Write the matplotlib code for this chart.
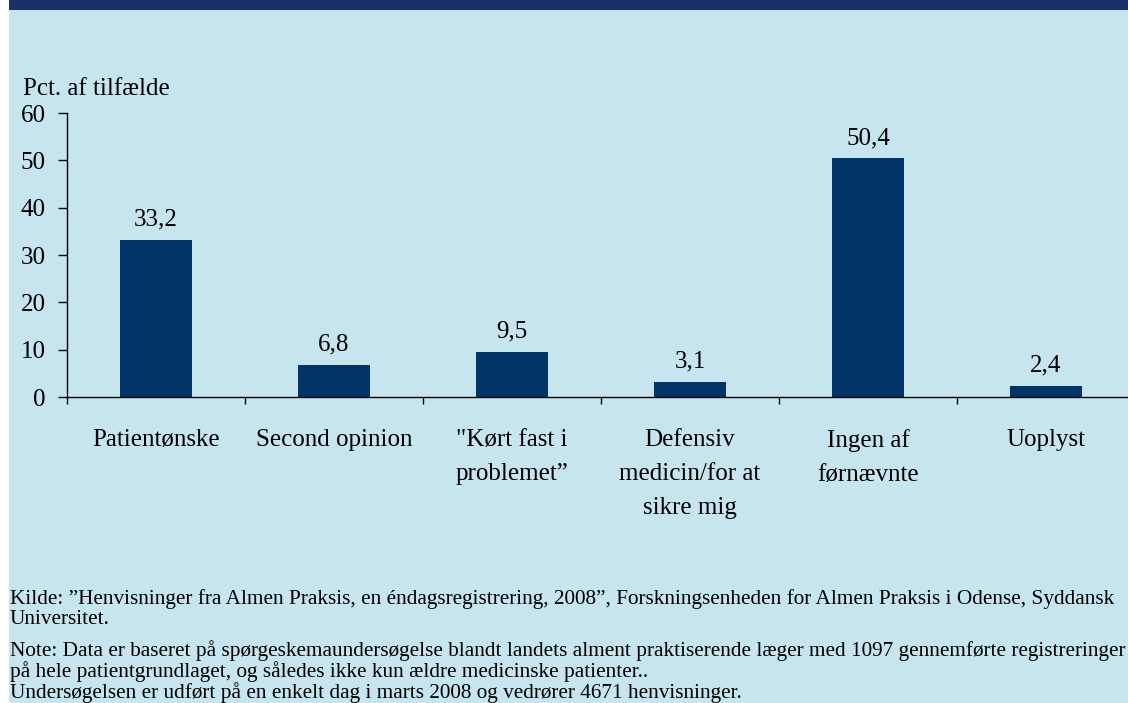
import matplotlib.pyplot as plt
from matplotlib.patches import Rectangle

plt.rcParams['font.family'] = ['Liberation Serif', 'DejaVu Serif']

categories = ['Patientønske', 'Second opinion', '"Kørt fast i\nproblemet\u201d',
              'Defensiv\nmedicin/for at\nsikre mig', 'Ingen af\nførnævnte', 'Uoplyst']
values = [33.2, 6.8, 9.5, 3.1, 50.4, 2.4]
value_labels = ['33,2', '6,8', '9,5', '3,1', '50,4', '2,4']
yticks = [0, 10, 20, 30, 40, 50, 60]

bg = '#C7E5EE'
bar_color = '#003366'

fig = plt.figure(figsize=(11.28, 7.03), dpi=100)
fig.patch.set_facecolor('white')
# light blue panel and dark top band
fig.patches.append(Rectangle((9 / 1128, 0), 1, 1, transform=fig.transFigure,
                             facecolor=bg, edgecolor='none', zorder=-2))
fig.patches.append(Rectangle((9 / 1128, 1 - 10 / 703), 1, 10 / 703, transform=fig.transFigure,
                             facecolor='#1C2F69', edgecolor='none', zorder=-1))

ax = fig.add_axes([67 / 1128, 1 - 397 / 703, 1068 / 1128, 284 / 703])
ax.set_facecolor('none')

x = range(len(categories))
bars = ax.bar(x, values, width=0.41, color=bar_color, zorder=2)
for i, v in enumerate(values):
    ax.text(i, v + 2.0, value_labels[i], ha='center', va='bottom', fontsize=18)

ax.set_xlim(-0.5, len(categories) - 0.5)
ax.set_ylim(0, 60)
ax.set_yticks(yticks)
ax.set_yticklabels([str(t) for t in yticks], fontsize=18)
ax.set_xticks([i - 0.5 for i in range(len(categories))])
ax.set_xticklabels([])
ax.tick_params(axis='y', length=6.5, width=1, pad=9)
ax.tick_params(axis='x', length=5, width=1)
for i, lab in enumerate(categories):
    ax.text(i, -6.8, lab, ha='center', va='top', fontsize=18, linespacing=1.7)

ax.spines['top'].set_visible(False)
ax.spines['right'].set_visible(False)
ax.spines['left'].set_linewidth(1)
ax.spines['bottom'].set_linewidth(1)

fig.text(23 / 1128, 1 - 89 / 703, 'Pct. af tilfælde', fontsize=18, va='center', ha='left')

notes = [
    'Kilde: \u201dHenvisninger fra Almen Praksis, en éndagsregistrering, 2008\u201d, Forskningsenheden for Almen Praksis i Odense, Syddansk',
    'Universitet.',
    'Note: Data er baseret på spørgeskemaundersøgelse blandt landets alment praktiserende læger med 1097 gennemførte registreringer',
    'på hele patientgrundlaget, og således ikke kun ældre medicinske patienter..',
    'Undersøgelsen er udført på en enkelt dag i marts 2008 og vedrører 4671 henvisninger.',
]
note_y = [599, 620, 651, 672, 693]
for txt, yy in zip(notes, note_y):
    fig.text(10 / 1128, 1 - yy / 703, txt, fontsize=15.3, va='center', ha='left')

fig.savefig('out.png', dpi=100, facecolor=fig.get_facecolor())
